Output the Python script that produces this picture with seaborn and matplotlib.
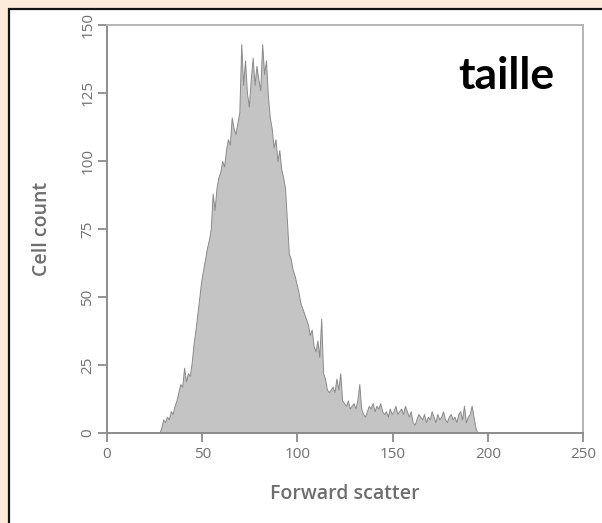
import numpy as np
import pandas as pd
import seaborn as sns
import matplotlib.pyplot as plt
from matplotlib.patches import Rectangle

# ---- data ----
channels = list(range(27, 195))
counts = [
    0, 2, 5, 4, 6, 5, 8, 7, 10, 12,          # 27-36
    15, 18, 17, 24, 19, 22, 21, 26, 33, 38,  # 37-46
    44, 50, 56, 60, 64, 68, 71, 75, 88, 82,  # 47-56
    90, 94, 96, 100, 98, 104, 108, 106, 116, 112,  # 57-66
    110, 114, 118, 143, 128, 137, 125, 120, 130, 138,  # 67-76
    128, 135, 130, 126, 143, 132, 137, 124, 116, 112,  # 77-86
    105, 108, 100, 104, 97, 94, 90, 78, 66, 64,  # 87-96
    60, 58, 55, 52, 48, 46, 44, 42, 40, 36,  # 97-106
    38, 32, 30, 34, 28, 42, 22, 20, 16, 15,  # 107-116
    16, 17, 15, 20, 16, 22, 12, 11, 10, 12,  # 117-126
    9, 10, 11, 9, 12, 18, 9, 7, 6, 8,        # 127-136
    10, 9, 11, 8, 10, 9, 11, 8, 7, 8,        # 137-146
    6, 9, 7, 8, 10, 7, 8, 9, 7, 10,          # 147-156
    8, 6, 8, 4, 3, 5, 7, 6, 5, 7,            # 157-166
    4, 6, 5, 8, 6, 4, 7, 5, 6, 8,            # 167-176
    5, 4, 6, 7, 5, 6, 4, 7, 8, 5,            # 177-186
    10, 4, 6, 7, 10, 6, 2, 0,                # 187-194
]
x_ticks = [0, 50, 100, 150, 200, 250]
y_ticks = [0, 25, 50, 75, 100, 125, 150]
x_label = "Forward scatter"
y_label = "Cell count"
title_text = "taille"

df = pd.DataFrame({"fsc": channels, "count": counts})

W, H = 602, 523
fig = plt.figure(figsize=(W / 100, H / 100), dpi=100, facecolor="#FCEADB")
fig.patches.append(Rectangle((9 / W, -0.1), 2, (H - 9) / H + 0.1,
                             transform=fig.transFigure, facecolor="white",
                             edgecolor="#141414", linewidth=1.6, zorder=-5))

ax = fig.add_axes([107 / W, (H - 433) / H, 476 / W, 408 / H])
ax.set_facecolor("white")

sns.histplot(data=df, x="fsc", weights="count", binwidth=1, binrange=(27, 195),
             element="poly", fill=True, color="#c4c4c4", alpha=1,
             edgecolor="#8a8a8a", linewidth=0.7, ax=ax)

ax.set_xlim(0, 250)
ax.set_ylim(0, 150)
ax.set_xticks(x_ticks)
ax.set_yticks(y_ticks)

for s in ["left", "bottom"]:
    ax.spines[s].set_color("#8c8c8c")
    ax.spines[s].set_linewidth(1.4)
for s in ["top", "right"]:
    ax.spines[s].set_color("#b4b4b4")
    ax.spines[s].set_linewidth(1.4)

ax.tick_params(direction="out", length=6.5, width=1.3, color="#8c8c8c",
               labelcolor="#707070", labelsize=11)
ax.tick_params(axis="y", pad=2)
for lab in ax.get_xticklabels() + ax.get_yticklabels():
    lab.set_fontfamily("Open Sans")
for lab in ax.get_yticklabels():
    lab.set_rotation(90)
    lab.set_va("center")

ax.set_xlabel(x_label, fontfamily="Open Sans", fontweight="semibold",
              fontsize=14, color="#6e6e6e", labelpad=16)
ax.set_ylabel(y_label, fontfamily="Open Sans", fontweight="semibold",
              fontsize=14, color="#6e6e6e", labelpad=20)

fig.text(506 / W, 1 - 76 / H, title_text, fontfamily="Lato", fontweight="bold",
         fontsize=32, color="black", ha="center", va="center")

fig.savefig("out.png", dpi=100, facecolor=fig.get_facecolor())
